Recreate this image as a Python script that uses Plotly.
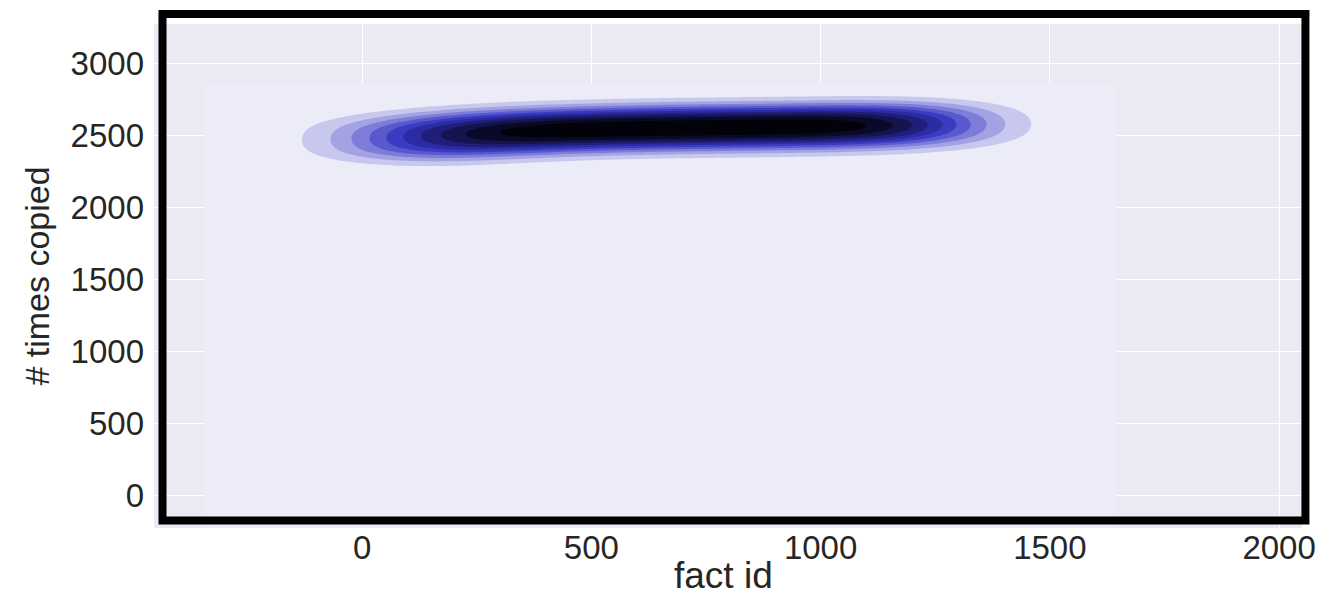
import numpy as np
import plotly.graph_objects as go

# Facts grouped by id bucket: bucket centre, copies per fact, facts in the group
fact_id = [50, 50, 150, 150, 250, 250, 350, 350, 450, 450, 550, 550, 650, 650,
           750, 750, 850, 850, 950, 950, 1050, 1050, 1150, 1150, 1250, 1250, 640]
times_copied = [2525, 2395, 2548, 2412, 2568, 2440, 2585, 2465, 2595, 2475,
                2602, 2482, 2608, 2488, 2611, 2491, 2614, 2494, 2617, 2497,
                2621, 2501, 2628, 2508, 2638, 2518, 0]
n_facts = [28, 28, 42, 42] + [50] * 20 + [40, 40, 1]

x_ticks = [0, 500, 1000, 1500, 2000]
y_ticks = [0, 500, 1000, 1500, 2000, 2500, 3000]

# Kernel density estimate settings
BW_X, BW_Y = 132.0, 74.0
CUT = 3
N_LEVELS = 11

xs = np.asarray(fact_id, float)
ys = np.asarray(times_copied, float)
w = np.asarray(n_facts, float)

gx = np.linspace(xs.min() - CUT * BW_X, xs.max() + CUT * BW_X, 300)
gy = np.linspace(ys.min() - CUT * BW_Y, ys.max() + CUT * BW_Y, 800)

kx = np.exp(-0.5 * ((gx[None, :] - xs[:, None]) / BW_X) ** 2)
ky = np.exp(-0.5 * ((gy[None, :] - ys[:, None]) / BW_Y) ** 2)
density = (ky.T * w) @ kx / (2 * np.pi * BW_X * BW_Y * w.sum())

step = density.max() / N_LEVELS

band_colors = [
    "#ECECF9", "#C8C8EE", "#A3A3E4", "#7D7DD9", "#5959CE", "#3A3AC2",
    "#2B2BA2", "#1F1F7A", "#141450", "#0A0A28", "#02020A",
]
colorscale = [[i / (len(band_colors) - 1), c] for i, c in enumerate(band_colors)]

fig = go.Figure()
fig.add_trace(go.Contour(
    x=gx, y=gy, z=density,
    colorscale=colorscale,
    showscale=False,
    contours=dict(start=step, end=step * (N_LEVELS - 1), size=step,
                  coloring="fill", showlines=False),
    line=dict(width=0),
    hoverinfo="skip",
))

text_color = "#262626"
font_family = "Liberation Sans, Arial, sans-serif"

fig.update_layout(
    width=1322, height=598,
    margin=dict(l=154, r=20, t=24, b=70),
    paper_bgcolor="white",
    plot_bgcolor="#EAEAF2",
    showlegend=False,
    font=dict(family=font_family, color=text_color, size=33),
    xaxis=dict(
        range=[-454, 2050], tickvals=x_ticks, ticks="", automargin=False,
        showgrid=True, gridcolor="white", gridwidth=1.2, zeroline=False,
        showline=False, tickfont=dict(size=33), ticklabelstandoff=-3,
    ),
    yaxis=dict(
        range=[-229, 3271], tickvals=y_ticks, ticks="", automargin=False,
        showgrid=True, gridcolor="white", gridwidth=1.2, zeroline=False,
        showline=False, tickfont=dict(size=33), ticklabelstandoff=9,
        title=dict(text="# times copied", font=dict(size=34), standoff=10),
    ),
    annotations=[dict(
        text="fact id", xref="paper", yref="paper", x=0.4965, y=-0.1385,
        xanchor="center", yanchor="bottom", showarrow=False,
        font=dict(size=37, color=text_color, family=font_family),
    )],
    shapes=[dict(
        type="rect", xref="paper", yref="paper",
        x0=0.0074, x1=1.0030, y0=0.0149, y1=1.0198,
        line=dict(color="black", width=8), fillcolor="rgba(0,0,0,0)",
        layer="above",
    )],
)

fig.write_html("out.html")
